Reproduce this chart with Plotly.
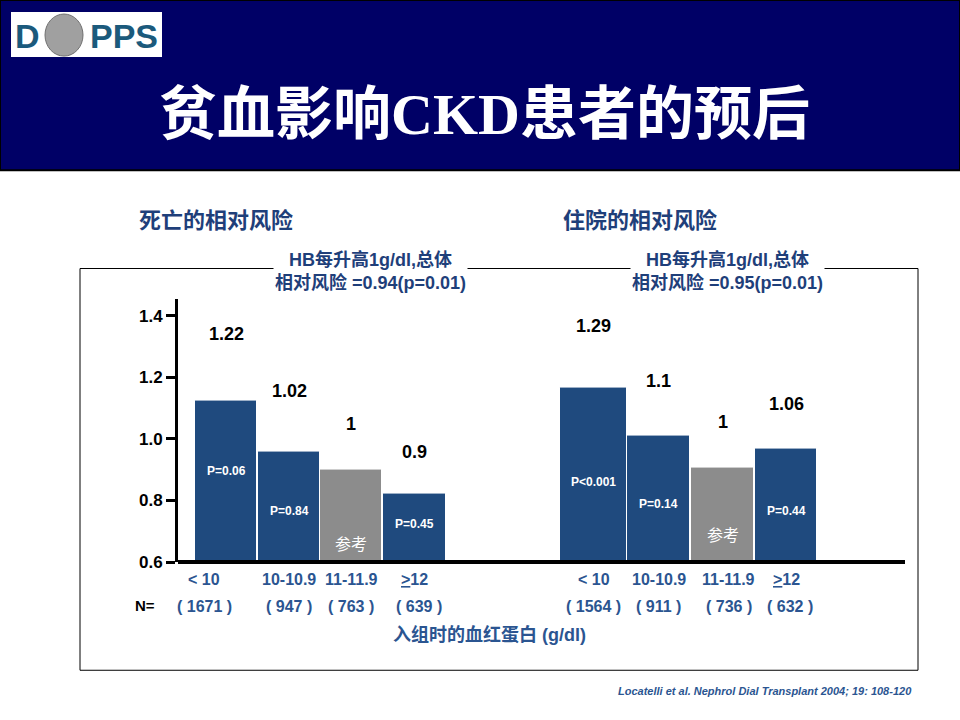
import plotly.graph_objects as go

categories_a = ["< 10", "10-10.9", "11-11.9", "<u>></u>12"]
categories_b = ["< 10", "10-10.9", "11-11.9", "<u>></u>12"]
n_a = ["( 1671 )", "( 947 )", "( 763 )", "( 639 )"]
n_b = ["( 1564 )", "( 911 )", "( 736 )", "( 632 )"]
rr_a_labels = ["1.22", "1.02", "1", "0.9"]
rr_b_labels = ["1.29", "1.1", "1", "1.06"]
bar_a = [1.125, 0.958, 0.90, 0.822]
bar_b = [1.167, 1.01, 0.906, 0.969]
p_a = ["P=0.06", "P=0.84", "参考", "P=0.45"]
p_b = ["P<0.001", "P=0.14", "参考", "P=0.44"]
ticks = [0.6, 0.8, 1.0, 1.2, 1.4]
tick_text = ["0.6", "0.8", "1.0", "1.2", "1.4"]

W, H = 960, 720
K = 1.016  # compensate for vertical compression observed in the render
NAVY = "#000066"
BAR = "#1f4a7e"
GRAY = "#8c8c8c"
BLUE = "#1f3f7a"
LBLUE = "#2b5591"
FONT = "Liberation Sans, Noto Sans CJK SC, Arial"

xa = [226, 289, 351, 414.5]
wa = [62, 62, 62, 63]
xb = [593.5, 658.5, 722.5, 786]
wb = [67, 63, 63, 62]
cols = [BAR, BAR, GRAY, BAR]

def py(p):
    return max(0.0, 1 - p * K / H)
def px(p):
    return p / W

Y0, Y1 = 561, 315
per = (Y0 - Y1) / 0.8
yhi = 1.4 + (Y1 - 298) / per

fig = go.Figure()
fig.add_bar(x=xa, y=bar_a, width=wa, marker=dict(color=cols, line=dict(color="white", width=1)), base=0)
fig.add_bar(x=xb, y=bar_b, width=wb, marker=dict(color=cols, line=dict(color="white", width=1)), base=0)

ann = []
def A(x, y, t, size=15, color="black", xref="x", yref="y", bold=True, **kw):
    ann.append(dict(x=x, y=y, xref=xref, yref=yref, text=("<b>%s</b>" % t) if bold else t,
                    xanchor="center", yanchor="middle",
                    showarrow=False, font=dict(size=size, color=color, family=FONT), **kw))

vpix_a = [333, 390, 423, 451]
vpix_b = [325, 380, 421, 403]
for xs, labs, vp in [(xa, rr_a_labels, vpix_a), (xb, rr_b_labels, vpix_b)]:
    for x, l, y in zip(xs, labs, vp):
        A(x, py(y), l, size=18, yref="paper")

ppix_a = [470, 510, 543, 523]
ppix_b = [481, 503, 534, 510]
for xs, ps, pp in [(xa, p_a, ppix_a), (xb, p_b, ppix_b)]:
    for x, p, y in zip(xs, ps, pp):
        if p == "参考":
            A(x, py(y), p, size=16, color="white", yref="paper", bold=False)
        else:
            A(x, py(y), p, size=12, color="white", yref="paper")

for xs, cats, ns, shift in [(xa, categories_a, n_a, [-22, 0, 0, 0]), (xb, categories_b, n_b, [0, 0, 6, 0])]:
    for x, c, n, s in zip(xs, cats, ns, shift):
        A(x + s, py(578), c, size=16, color=LBLUE, yref="paper")
        A(x + s + (4 if c.startswith("<u>") else 0), py(605), n, size=16, color=LBLUE, yref="paper")
A(px(145), py(604), "N=", size=15, xref="paper", yref="paper")
A(px(490), py(634), "入组时的血红蛋白 (g/dl)", size=18, color=LBLUE, xref="paper", yref="paper")
A(px(216), py(220), "死亡的相对风险", size=22, color=BLUE, xref="paper", yref="paper")
A(px(640), py(220), "住院的相对风险", size=22, color=BLUE, xref="paper", yref="paper")
A(px(370), py(270), "HB每升高1g/dl,总体<br>相对风险 =0.94(p=0.01)", size=18, color=BLUE,
  xref="paper", yref="paper", bgcolor="white")
A(px(727), py(270), "HB每升高1g/dl,总体<br>相对风险 =0.95(p=0.01)", size=18, color=BLUE,
  xref="paper", yref="paper", bgcolor="white")
A(px(765), py(690), "<i>Locatelli et al. Nephrol Dial Transplant 2004; 19: 108-120</i>", size=11,
  color=LBLUE, xref="paper", yref="paper")
ann.append(dict(x=0.505, y=py(114), xref="paper", yref="paper", showarrow=False,
                xanchor="center", yanchor="middle",
                text="<b>贫血影响CKD患者的预后</b>",
                font=dict(size=58, color="white", family="Liberation Serif, Noto Sans CJK SC")))
ann.append(dict(x=px(27), y=py(36), xref="paper", yref="paper", showarrow=False, text="<b>D</b>",
                xanchor="center", yanchor="middle",
                font=dict(size=34, color="#1b5a7c", family="Liberation Sans")))
ann.append(dict(x=px(124), y=py(36), xref="paper", yref="paper", showarrow=False, text="<b>PPS</b>",
                xanchor="center", yanchor="middle",
                font=dict(size=34, color="#1b5a7c", family="Liberation Sans")))

shapes = [
    dict(type="rect", xref="paper", yref="paper", x0=0, x1=1, y0=py(170), y1=1,
         fillcolor=NAVY, line=dict(color="black", width=2), layer="below"),
    dict(type="rect", xref="paper", yref="paper", x0=px(11), x1=px(162), y0=py(57), y1=py(12),
         fillcolor="white", line=dict(width=0)),
    dict(type="circle", xref="paper", yref="paper", x0=px(45), x1=px(83), y0=py(56), y1=py(14),
         fillcolor="#a0a0a0", line=dict(color="#707070", width=1)),
    dict(type="rect", xref="paper", yref="paper", x0=px(80), x1=px(918), y0=py(669), y1=py(268),
         line=dict(color="black", width=1), layer="below"),
    dict(type="line", xref="paper", yref="paper", x0=px(178), x1=px(905), y0=py(561), y1=py(561),
         line=dict(color="black", width=4)),
]

fig.update_layout(
    width=W, height=H, margin=dict(l=0, r=0, t=0, b=0), showlegend=False, bargap=0,
    plot_bgcolor="rgba(0,0,0,0)", paper_bgcolor="white",
    xaxis=dict(domain=[px(178), px(905)], range=[178, 905], visible=False),
    yaxis=dict(domain=[py(561), py(298)], range=[0.6, yhi],
               tickvals=ticks, ticktext=["<b>%s</b>" % t for t in tick_text],
               ticks="outside", ticklen=9, tickwidth=3, tickcolor="black",
               showline=True, linewidth=3, linecolor="black", showgrid=False, zeroline=False,
               tickfont=dict(size=17, color="black", family=FONT)),
    annotations=ann, shapes=shapes,
)
js = ("document.documentElement.style.margin='0';document.documentElement.style.padding='0';"
      "document.documentElement.style.overflow='hidden';"
      "document.body.style.margin='0';document.body.style.padding='0';document.body.style.overflow='hidden';")
fig.write_html("out.html", config={"displayModeBar": False}, post_script=js)
